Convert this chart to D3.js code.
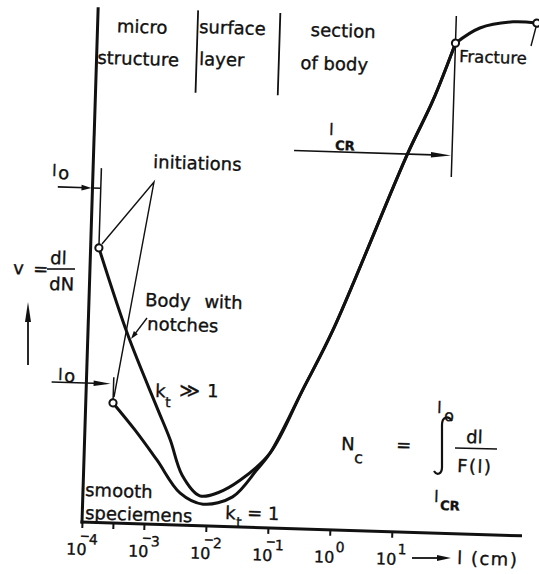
<!DOCTYPE html>
<html>
<head>
<meta charset="utf-8">
<script src="https://cdn.jsdelivr.net/npm/d3@7"></script>
<style>
  body { margin: 0; background: #fff; }
  svg text { font-family: "DejaVu Sans", sans-serif; fill: #111; stroke: #111; stroke-width: 0.35px; }
</style>
</head>
<body>
<script>
const w = 539, h = 574;
const ink = "#111";
const tilt = 1.8; // the scanned sheet sits slightly rotated

// crack length l (cm) against growth rate v = dl/dN (arbitrary units 0..100)
const notchedL = [1.36e-4, 4.4e-4, 1.4e-3, 2.4e-3, 3.9e-3, 7.7e-3, 1.5e-2, 3.4e-2, 9.9e-2, 0.31, 0.89, 11.3, 27.9, 60];
const notchedV = [53.3, 36.6, 22.8, 16.5, 9.7, 5.8, 6.5, 9.1, 14.5, 27.0, 38.8, 73.2, 84.0, 95.2];
const smoothL = [2.75e-4, 6.4e-4, 1.5e-3, 3.7e-3, 8.75e-3, 2.6e-2, 6.2e-2, 9.9e-2, 0.31, 0.89, 11.3, 27.9, 60];
const smoothV = [23.3, 18.2, 12.5, 6.2, 4.2, 5.8, 11.2, 14.5, 27.0, 38.8, 73.2, 84.0, 95.2];
const fractureL = [60, 146, 495, 1200];
const fractureV = [95.2, 98.3, 99.7, 99.6];

const decades = [1e-4, 1e-3, 1e-2, 1e-1, 1, 10];
const decadeExp = ["-4", "-3", "-2", "-1", "0", "1"];
const minorTicks = [Math.pow(10, -3.5)];
const regionBounds = [4.1e-3, 8.7e-2];
const lCR = 60;
const l0ArrowV = [64.9, 27.0];
const l0TopV = [68.8, 28.3];
const lCRArrowV = 73.4;

const x = d3.scaleLog().domain([1e-4, 10]).range([82, 392]);
const y = d3.scaleLinear().domain([0, 100]).range([522, 7]);

const svg = d3.select("body").append("svg").attr("width", w).attr("height", h);
const g = svg.append("g").attr("transform", `rotate(${tilt},${x(1e-4)},${y(0)})`);

const arrow = (sel, x1, y1, x2, y2, len, half, sw) => {
  const a = Math.atan2(y2 - y1, x2 - x1), c = Math.cos(a), s = Math.sin(a);
  sel.append("line")
    .attr("x1", x1).attr("y1", y1)
    .attr("x2", x2 - c * len * 0.5).attr("y2", y2 - s * len * 0.5)
    .attr("stroke", ink).attr("stroke-width", sw);
  const bx = x2 - c * len, by = y2 - s * len;
  sel.append("path")
    .attr("d", `M${x2},${y2}L${bx - s * half},${by + c * half}L${bx + s * half},${by - c * half}Z`)
    .attr("fill", ink);
};

const note = (x0, y0, str, size, opts = {}) => {
  const t = svg.append("text")
    .attr("x", x0).attr("y", y0)
    .attr("font-size", size || 18)
    .attr("text-anchor", opts.anchor || "start")
    .attr("transform", `rotate(${tilt},${x0},${y0})`)
    .text(str);
  if (opts.bold) t.attr("font-weight", "bold");
  if (opts.ls) t.attr("letter-spacing", opts.ls);
  if (opts.ws) t.attr("word-spacing", opts.ws);
  return t;
};

// axes
g.append("line")
  .attr("x1", x(1e-4)).attr("x2", x(1e-4))
  .attr("y1", y(0) + 1.5).attr("y2", y(100))
  .attr("stroke", ink).attr("stroke-width", 3);
g.append("line")
  .attr("x1", x(1e-4) - 1.5).attr("x2", x(Math.pow(10, 3.1)))
  .attr("y1", y(0)).attr("y2", y(0))
  .attr("stroke", ink).attr("stroke-width", 3);

const ax = g.append("g")
  .attr("transform", `translate(0,${y(0)})`)
  .call(d3.axisBottom(x).tickValues(decades.concat(minorTicks)).tickSize(6).tickFormat(""));
ax.select(".domain").remove();
ax.selectAll(".tick line").attr("stroke", ink).attr("stroke-width", 2);

g.selectAll(".declabel")
  .data(decades)
  .enter()
  .append("text")
    .attr("class", "declabel")
    .attr("x", (d) => x(d) - 15)
    .attr("y", y(0) + 33)
    .attr("font-size", 16)
    .each(function(d, i) {
      const t = d3.select(this);
      const e = decadeExp[i];
      t.append("tspan").text("10");
      if (e[0] === "-") {
        t.append("tspan").attr("dx", -7).attr("dy", -15).attr("font-size", 12).text("\u2212");
        t.append("tspan").attr("dx", -1).attr("dy", 4).attr("font-size", 14).text(e.slice(1));
      } else {
        t.append("tspan").attr("dx", 1).attr("dy", -11).attr("font-size", 14).text(e);
      }
    });

// region dividers and the critical length line
g.selectAll(".bound")
  .data(regionBounds)
  .enter()
  .append("line")
    .attr("x1", (d) => x(d)).attr("x2", (d) => x(d))
    .attr("y1", y(84)).attr("y2", y(100))
    .attr("stroke", ink).attr("stroke-width", 1.8);

g.append("line")
  .attr("x1", x(lCR)).attr("x2", x(lCR))
  .attr("y1", y(69.2)).attr("y2", y(100.5))
  .attr("stroke", ink).attr("stroke-width", 1.5);
arrow(g, x(lCR) - 158, y(lCRArrowV), x(lCR) - 1, y(lCRArrowV), 20, 2.8, 1.6);

// l0 markers
const starts = [[notchedL[0], notchedV[0]], [smoothL[0], smoothV[0]]];
starts.forEach((p, i) => {
  g.append("line")
    .attr("x1", x(p[0])).attr("x2", x(p[0]))
    .attr("y1", y(p[1]) - 3).attr("y2", y(l0TopV[i]))
    .attr("stroke", ink).attr("stroke-width", 1.5);
});
arrow(g, x(starts[0][0]) - 43, y(l0ArrowV[0]), x(1e-4) - 1, y(l0ArrowV[0]), 10, 2.8, 1.6);
g.append("line")
  .attr("x1", x(1e-4)).attr("x2", x(starts[0][0]))
  .attr("y1", y(l0ArrowV[0])).attr("y2", y(l0ArrowV[0]))
  .attr("stroke", ink).attr("stroke-width", 1.5);
arrow(g, x(starts[1][0]) - 62, y(l0ArrowV[1]), x(starts[1][0]) - 3, y(l0ArrowV[1]), 17, 2.8, 1.6);

// curves
const line = d3.line()
  .x((d) => x(d[0]))
  .y((d) => y(d[1]))
  .curve(d3.curveCatmullRom.alpha(0.5));

[d3.zip(smoothL, smoothV), d3.zip(notchedL, notchedV), d3.zip(fractureL, fractureV)].forEach((pts) => {
  g.append("path")
    .attr("d", line(pts))
    .attr("fill", "none")
    .attr("stroke", ink)
    .attr("stroke-width", 3)
    .attr("stroke-linejoin", "round")
    .attr("stroke-linecap", "round");
});

const dots = [starts[0], starts[1], [fractureL[0], fractureV[0]], [fractureL[3], fractureV[3]]];
g.selectAll(".dot")
  .data(dots)
  .enter()
  .append("circle")
    .attr("cx", (d) => x(d[0]))
    .attr("cy", (d) => y(d[1]))
    .attr("r", 3.6)
    .attr("fill", "#fff")
    .attr("stroke", ink)
    .attr("stroke-width", 2);

// leaders
const thin = (pts) => svg.append("path")
  .attr("d", d3.line()(pts))
  .attr("fill", "none").attr("stroke", ink).attr("stroke-width", 1.4);
thin([[102, 244], [154, 182], [114, 397]]);
thin([[531, 46], [536, 27]]);
arrow(svg, 147, 318, 131, 339, 8, 2.5, 1.4);
arrow(svg, 28, 365, 28, 302, 20, 3, 1.8);
arrow(svg, 412, 558, 451, 558, 14, 3, 1.8);

// integral sign
svg.append("path")
  .attr("d", "M452,421 C448,415 442,417 442,425 L442,467 C442,474 437,476 434,471")
  .attr("fill", "none").attr("stroke", ink).attr("stroke-width", 2.2);
svg.append("line")
  .attr("x1", 455).attr("x2", 497).attr("y1", 448).attr("y2", 449)
  .attr("stroke", ink).attr("stroke-width", 1.6);
svg.append("line")
  .attr("x1", 47).attr("x2", 75).attr("y1", 269).attr("y2", 269)
  .attr("stroke", ink).attr("stroke-width", 1.6);

// texts
note(142, 33, "micro", 18, {anchor: "middle"});
note(138, 65, "structure", 18, {anchor: "middle"});
note(199, 33, "surface");
note(199, 65, "layer");
note(343, 37, "section", 18, {anchor: "middle"});
note(334, 70, "of body", 18, {anchor: "middle"});
note(459, 62, "Fracture", 16.5);
note(153, 168, "initiations");
note(145, 306, "Body with", 18, {ws: 8});
note(147, 330, "notches");
note(155, 397, "k");
note(165, 407, "t", 14);
note(179, 397, "\u226B", 20);
note(207, 397, "1");
note(85, 496, "smooth");
note(85, 519, "speciemens");
note(225, 519, "k");
note(236, 527, "t", 14);
note(247, 519, "= 1");
note(13, 274, "v");
note(33, 275, "=");
note(50, 264, "dl");
note(49, 290, "dN");
note(52, 176, "l", 16);
note(58, 179, "o", 18);
note(58, 380, "l", 16);
note(64, 382, "o", 18);
note(329, 135, "l", 16);
note(335, 150, "CR", 13, {bold: true});
note(341, 450, "N");
note(354, 463, "c", 16);
note(396, 451, "=");
note(437, 413, "l", 16);
note(444, 421, "o", 16);
note(466, 443, "dl");
note(457, 472, "F(l)", 18, {ls: 1.5});
note(434, 502, "l", 16);
note(440, 510, "CR", 13, {bold: true});
note(457, 564, "l (cm)", 18, {ls: 1.5});
</script>
</body>
</html>
